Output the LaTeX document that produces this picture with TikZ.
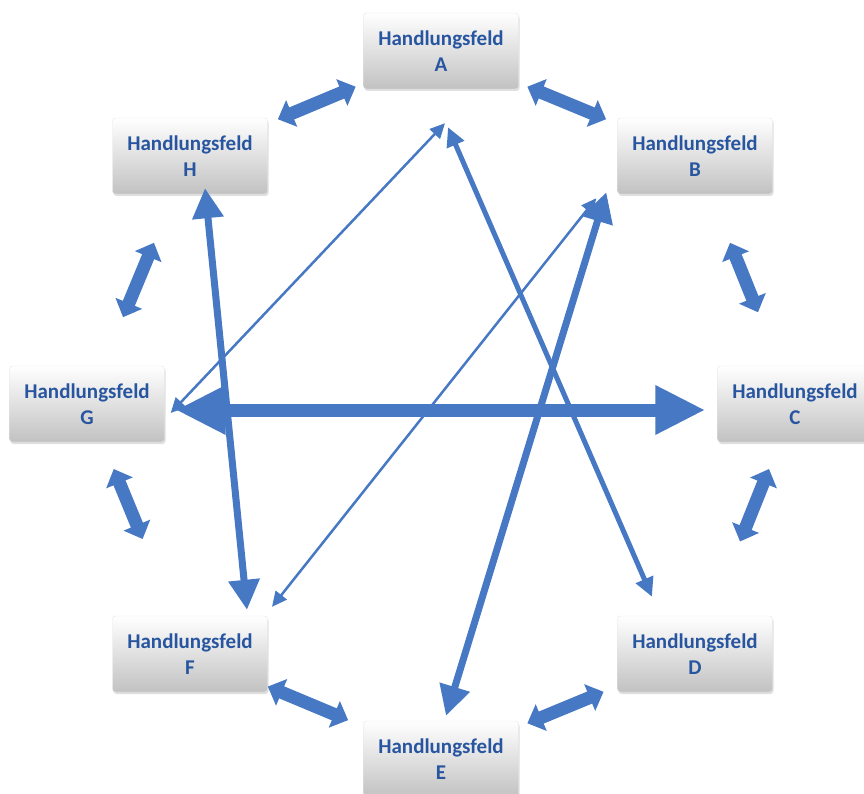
\documentclass[tikz,border=0pt]{standalone}
\usepackage{fontspec}
\setmainfont{Carlito}
\usetikzlibrary{arrows.meta}
\usetikzlibrary{shadows}
\usetikzlibrary{calc}
\definecolor{feldblau}{RGB}{70,120,195}
\definecolor{feldtext}{RGB}{40,85,160}
\tikzset{
  feld/.style={rectangle,rounded corners=3pt,minimum width=155pt,minimum height=76pt,
    top color=white,bottom color=black!24,draw=black!10,
    drop shadow={shadow xshift=1pt,shadow yshift=-2pt,opacity=0.25},
    align=center,text=feldtext,font=\fontsize{21}{26}\selectfont\bfseries},
  nachbar/.style={feldblau,line width=13pt,
    {Triangle[length=15pt,width=28pt]}-{Triangle[length=15pt,width=28pt]}},
  duenn/.style={feldblau,line width=2.5pt,
    {Triangle[length=15pt,width=14pt]}-{Triangle[length=15pt,width=14pt]}},
  mittel/.style={feldblau,line width=5pt,
    {Triangle[length=19pt,width=18pt]}-{Triangle[length=19pt,width=18pt]}},
  dick/.style={feldblau,line width=7pt,
    {Triangle[length=30pt,width=30pt]}-{Triangle[length=30pt,width=30pt]}},
  sehrdick/.style={feldblau,line width=13pt,
    {Triangle[length=50pt,width=46pt]}-{Triangle[length=50pt,width=46pt]}}
}
\begin{document}
\begin{tikzpicture}[x=1pt,y=-1pt]
          \useasboundingbox (0,0) rectangle (864,794);
          \node[feld] (A) at (441,51)  {Handlungsfeld\\A};
          \node[feld] (B) at (695,156) {Handlungsfeld\\B};
          \node[feld] (C) at (795,404) {Handlungsfeld\\C};
          \node[feld] (D) at (695,654) {Handlungsfeld\\D};
          \node[feld] (E) at (441,759) {Handlungsfeld\\E};
          \node[feld] (F) at (190,654) {Handlungsfeld\\F};
          \node[feld] (G) at (87,404)  {Handlungsfeld\\G};
          \node[feld] (H) at (190,156) {Handlungsfeld\\H};
          \foreach \p/\q/\s/\e in {A/B/0.34/0.65,B/C/0.35/0.63,C/D/0.26/0.55,D/E/0.36/0.66,
                                   E/F/0.37/0.69,F/G/0.46/0.74,G/H/0.35/0.65,H/A/0.35/0.66}
            \draw[nachbar] ($(\p)!\s!(\q)$) -- ($(\p)!\e!(\q)$);
          \draw[duenn] ($(G.east)+(6,9)$) -- ($(A.south)+(4,34)$);
          \draw[mittel] ($(A.south)+(7,38)$) -- ($(D.north)+(-43,-19)$);
          \draw[dick] ($(H.south)+(15,-6)$) -- ($(F.north)+(57,-6)$);
          \draw[duenn] ($(F.north)+(82,-9)$) -- ($(B.south west)+(-21,4)$);
          \draw[dick] ($(E.north)+(5,-5)$) -- ($(B.south west)+(-11,-2)$);
          \draw[sehrdick] ($(G.east)+(11,6)$) -- ($(C.west)+(-12,6)$);
\end{tikzpicture}
\end{document}
